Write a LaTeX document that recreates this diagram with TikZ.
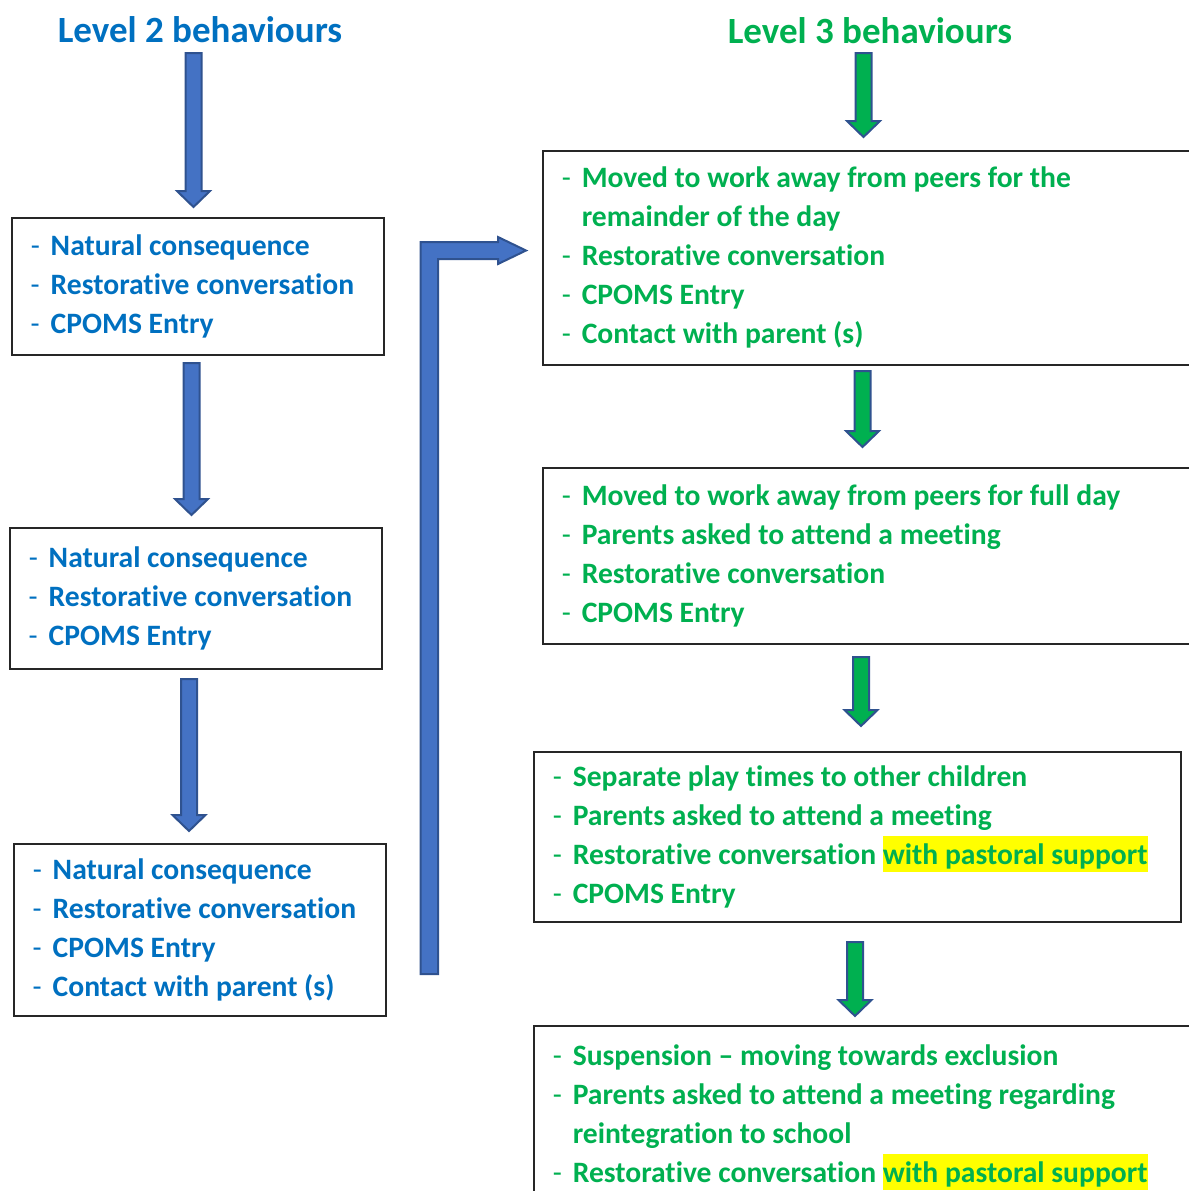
\documentclass[tikz,border=0pt]{standalone}
\usepackage{fontspec}
\setmainfont{Carlito}[Ligatures=NoCommon]
\usetikzlibrary{calc}
\definecolor{lvblue}{RGB}{0,112,192}
\definecolor{lvgreen}{RGB}{0,176,80}
\definecolor{arrowblue}{RGB}{68,114,196}
\definecolor{arrowedge}{RGB}{47,82,143}
\definecolor{lvyellow}{RGB}{255,255,0}

\newcommand{\listfont}{\fontsize{14.8pt}{19.5pt}\selectfont\bfseries}
\newcommand{\titlefont}{\fontsize{18.5pt}{22pt}\selectfont\bfseries}
\newcommand{\itm}{\hspace*{9.5pt}\makebox[10pt][l]{\mdseries -}}
\newcommand{\itc}{\hspace*{19.5pt}}
\newcommand{\hilite}[1]{\smash{\setlength{\fboxsep}{0pt}\colorbox{lvyellow}{\rule[-4pt]{0pt}{18pt}#1}}}

\begin{document}
\begin{tikzpicture}[x=0.5pt,y=-0.5pt,
	title/.style={font=\titlefont, inner sep=0pt},
	lvbox/.style={draw=black!85, line width=0.75pt, anchor=north west, inner sep=0pt, align=flush left, font=\listfont},
	blockdown/.style={to path={let \p1=(\tikztostart), \p2=(\tikztotarget) in
		(\x1-4pt,\y1) -- (\x1+4pt,\y1) -- (\x1+4pt,\y2+8pt) -- (\x1+8.25pt,\y2+8pt) -- (\x1,\y2)
		-- (\x1-8.25pt,\y2+8pt) -- (\x1-4pt,\y2+8pt) -- cycle}},
	bluearrow/.style={fill=arrowblue, draw=arrowedge, line width=1pt, line join=miter},
	greenarrow/.style={fill=lvgreen, draw=arrowedge, line width=1pt, line join=miter}]
	\useasboundingbox (0,0) rectangle (1189,1191);

	% titles
	\node[title, text=lvblue] (lvtwo) at (200,30) {Level 2 behaviours};
	\node[title, text=lvgreen] (lvthree) at (870,31) {Level 3 behaviours};

	% level 2 boxes
	\node[lvbox, text=lvblue, text width=186pt, minimum height=68.5pt] (two-a) at (11,217)
		{\itm Natural consequence\\ \itm Restorative conversation\\ \itm CPOMS Entry};
	\node[lvbox, text=lvblue, text width=186pt, minimum height=70.5pt] (two-b) at (9,527)
		{\itm Natural consequence\\ \itm Restorative conversation\\ \itm CPOMS Entry};
	\node[lvbox, text=lvblue, text width=186pt, minimum height=86pt] (two-c) at (13,843)
		{\itm Natural consequence\\ \itm Restorative conversation\\ \itm CPOMS Entry\\ \itm Contact with parent (s)};

	% level 3 boxes
	\node[lvbox, text=lvgreen, text width=350pt, minimum height=107pt] (three-a) at (542,150)
		{\itm Moved to work away from peers for the\\ \itc remainder of the day\\ \itm Restorative conversation\\ \itm CPOMS Entry\\ \itm Contact with parent (s)};
	\node[lvbox, text=lvgreen, text width=350pt, minimum height=88pt] (three-b) at (542,467)
		{\itm Moved to work away from peers for full day\\ \itm Parents asked to attend a meeting\\ \itm Restorative conversation\\ \itm CPOMS Entry};
	\node[lvbox, text=lvgreen, text width=323.5pt, minimum height=85pt] (three-c) at (533,751)
		{\itm Separate play times to other children\\ \itm Parents asked to attend a meeting\\ \itm Restorative conversation \hilite{with pastoral support}\\ \itm CPOMS Entry};
	\node[lvbox, text=lvgreen, text width=350pt, minimum height=87.5pt] (three-d) at (533,1025)
		{\itm Suspension -- moving towards exclusion\\ \itm Parents asked to attend a meeting regarding\\ \itc reintegration to school\\ \itm Restorative conversation \hilite{with pastoral support}};

	% arrow ends
	\coordinate (b1top) at (193.5,53);  \coordinate (b1tip) at (193.5,207);
	\coordinate (b2top) at (191.5,363); \coordinate (b2tip) at (191.5,515);
	\coordinate (b3top) at (189,679);   \coordinate (b3tip) at (189,831);
	\coordinate (g1top) at (863.5,53);  \coordinate (g1tip) at (863.5,137);
	\coordinate (g2top) at (862.5,371); \coordinate (g2tip) at (862.5,447);
	\coordinate (g3top) at (861,657);   \coordinate (g3tip) at (861,726);
	\coordinate (g4top) at (855,942);   \coordinate (g4tip) at (855,1016);

	% blue arrows
	\draw[bluearrow] (b1top) to[blockdown] (b1tip);
	\draw[bluearrow] (b2top) to[blockdown] (b2tip);
	\draw[bluearrow] (b3top) to[blockdown] (b3tip);

	% bent arrow to level 3
	\draw[bluearrow] (420.5,974) -- (420.5,242) -- (498,242) -- (498,237) -- (526,250.5)
		-- (498,264) -- (498,259) -- (438,259) -- (438,974) -- cycle;

	% green arrows
	\draw[greenarrow] (g1top) to[blockdown] (g1tip);
	\draw[greenarrow] (g2top) to[blockdown] (g2tip);
	\draw[greenarrow] (g3top) to[blockdown] (g3tip);
	\draw[greenarrow] (g4top) to[blockdown] (g4tip);
\end{tikzpicture}
\end{document}
